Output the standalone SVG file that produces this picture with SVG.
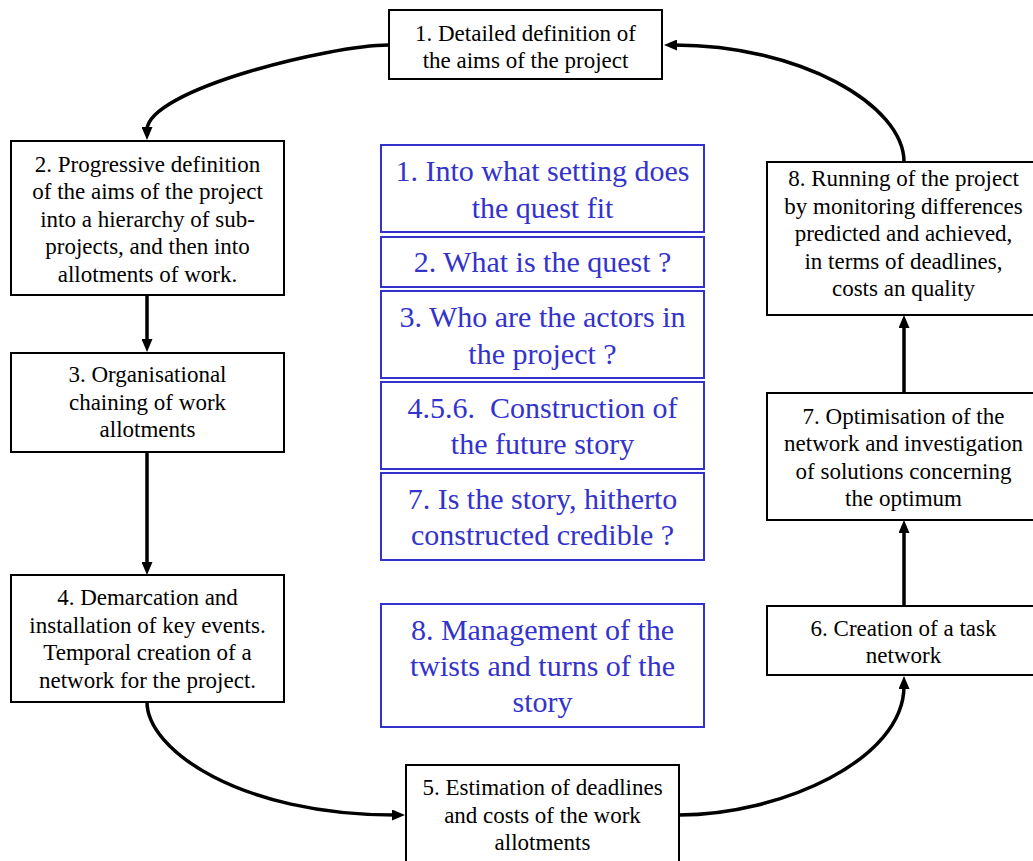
<svg xmlns="http://www.w3.org/2000/svg" width="1033" height="861" viewBox="0 0 1033 861">
<style>
.box{fill:#fff;stroke:#000;stroke-width:2}
.q{fill:#fff;stroke:#3333cc;stroke-width:2}
.t{font-family:"Liberation Serif","Times New Roman",serif;font-size:23px;fill:#000;text-anchor:middle}
.b{font-family:"Liberation Serif","Times New Roman",serif;font-size:30px;fill:#3333cc;text-anchor:middle;white-space:pre}
.c{fill:none;stroke:#000;stroke-width:3.5}
</style>
<defs>
<marker id="ah" markerWidth="13" markerHeight="11" refX="3" refY="5.5" orient="auto" markerUnits="userSpaceOnUse">
<path d="M0,0 L13,5.5 L0,11 z" fill="#000"/>
</marker>
</defs>
<rect width="1033" height="861" fill="#fff"/>
<g id="connectors">
<path class="c" marker-end="url(#ah)" d="M389,45 C330,45 147,90 147,130"/>
<path class="c" marker-end="url(#ah)" d="M147,295 V342"/>
<path class="c" marker-end="url(#ah)" d="M147,452 V565"/>
<path class="c" marker-end="url(#ah)" d="M147,702 C147,750 240,815 395,815"/>
<path class="c" marker-end="url(#ah)" d="M679,815 C780,815 904,760 904,686"/>
<path class="c" marker-end="url(#ah)" d="M904,606 V530"/>
<path class="c" marker-end="url(#ah)" d="M904,393 V325"/>
<path class="c" marker-end="url(#ah)" d="M904,162 C904,105 800,45 674,45"/>
</g>
<g id="n1"><rect class="box" x="389" y="10" width="273" height="69"/>
<text class="t" x="525.5" y="40.5">1. Detailed definition of</text>
<text class="t" x="525.5" y="68">the aims of the project</text></g>
<g id="n2"><rect class="box" x="11" y="141" width="273" height="154"/>
<text class="t" x="147.5" y="171.5">2. Progressive definition</text>
<text class="t" x="147.5" y="199">of the aims of the project</text>
<text class="t" x="147.5" y="226.5">into a hierarchy of sub-</text>
<text class="t" x="147.5" y="254">projects, and then into</text>
<text class="t" x="147.5" y="281.5">allotments of work.</text></g>
<g id="n3"><rect class="box" x="11" y="353" width="273" height="99"/>
<text class="t" x="147.5" y="382">3. Organisational</text>
<text class="t" x="147.5" y="409.5">chaining of work</text>
<text class="t" x="147.5" y="437">allotments</text></g>
<g id="n4"><rect class="box" x="11" y="575" width="273" height="127"/>
<text class="t" x="147.5" y="605">4. Demarcation and</text>
<text class="t" x="147.5" y="632.5">installation of key events.</text>
<text class="t" x="147.5" y="660">Temporal creation of a</text>
<text class="t" x="147.5" y="687.5">network for the project.</text></g>
<g id="n5"><rect class="box" x="406" y="765" width="273" height="102"/>
<text class="t" x="542.5" y="795">5. Estimation of deadlines</text>
<text class="t" x="542.5" y="822.5">and costs of the work</text>
<text class="t" x="542.5" y="850">allotments</text></g>
<g id="n6"><rect class="box" x="767" y="606" width="273" height="69"/>
<text class="t" x="903.5" y="635.5">6. Creation of a task</text>
<text class="t" x="903.5" y="663">network</text></g>
<g id="n7"><rect class="box" x="767" y="393" width="273" height="127"/>
<text class="t" x="903.5" y="423.5">7. Optimisation of the</text>
<text class="t" x="903.5" y="451">network and investigation</text>
<text class="t" x="903.5" y="478.5">of solutions concerning</text>
<text class="t" x="903.5" y="506">the optimum</text></g>
<g id="n8"><rect class="box" x="767" y="162" width="273" height="153"/>
<text class="t" x="903.5" y="186">8. Running of the project</text>
<text class="t" x="903.5" y="213.5">by monitoring differences</text>
<text class="t" x="903.5" y="241">predicted and achieved,</text>
<text class="t" x="903.5" y="268.5">in terms of deadlines,</text>
<text class="t" x="903.5" y="296">costs an quality</text></g>
<g id="q1"><rect class="q" x="381" y="145" width="323" height="87"/>
<text class="b" x="542.5" y="181">1. Into what setting does</text>
<text class="b" x="542.5" y="217.5">the quest fit</text></g>
<g id="q2"><rect class="q" x="381" y="237" width="323" height="50"/>
<text class="b" x="542.5" y="272">2. What is the quest ?</text></g>
<g id="q3"><rect class="q" x="381" y="291" width="323" height="87"/>
<text class="b" x="542.5" y="327">3. Who are the actors in</text>
<text class="b" x="542.5" y="363.5">the project ?</text></g>
<g id="q4"><rect class="q" x="381" y="382" width="323" height="87"/>
<text class="b" x="542.5" y="417.5">4.5.6.  Construction of</text>
<text class="b" x="542.5" y="453.5">the future story</text></g>
<g id="q5"><rect class="q" x="381" y="473" width="323" height="87"/>
<text class="b" x="542.5" y="508.5">7. Is the story, hitherto</text>
<text class="b" x="542.5" y="545">constructed credible ?</text></g>
<g id="q8"><rect class="q" x="381" y="604" width="323" height="123"/>
<text class="b" x="542.5" y="640">8. Management of the</text>
<text class="b" x="542.5" y="676">twists and turns of the</text>
<text class="b" x="542.5" y="712">story</text></g>
</svg>
